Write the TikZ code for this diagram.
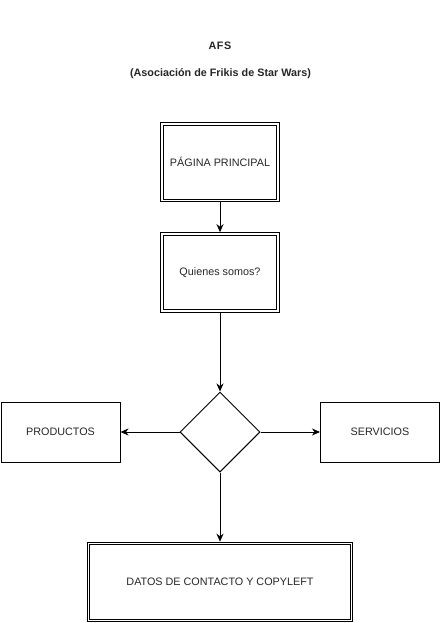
\documentclass[tikz,border=0pt]{standalone}
\usepackage{fontspec}
\setmainfont{Liberation Sans}
\usetikzlibrary{shapes.geometric,arrows.meta}
\begin{document}
\begin{tikzpicture}[x=1pt,y=-1pt,
  every node/.style={font=\fontsize{10.8}{13}\selectfont, text=black!85},
  dblbox/.style={draw, line width=1pt, double, double distance=1.6pt, outer sep=1.8pt, inner sep=0pt, align=center},
  sglbox/.style={draw, line width=1pt, inner sep=0pt, align=center},
  decision/.style={draw, line width=1pt, diamond, inner sep=0pt, minimum width=80pt, minimum height=80pt},
  titletext/.style={font=\fontsize{10.8}{13}\selectfont\bfseries},
  conn/.style={line width=1pt, -{Stealth[length=8pt,width=7pt,inset=2.5pt]}}]
\useasboundingbox (0,0) rectangle (441,623);
\node[titletext] (t1) at (220,46) {A\kern0.6pt F\kern0.6pt S};
\node[titletext] (t2) at (220.5,74) {(Asociación de Frikis de Star Wars)};
\node[dblbox, minimum width=116pt, minimum height=76.5pt] (b1) at (220,162.2) {PÁGINA PRINCIPAL};
\node[dblbox, minimum width=116pt, minimum height=77pt] (b2) at (220,272.5) {Quienes somos?};
\node[decision] (d) at (220,432) {};
\node[sglbox, minimum width=119pt, minimum height=60pt] (p) at (60.5,432) {PRODUCTOS};
\node[sglbox, minimum width=119pt, minimum height=60pt] (s) at (380,432) {SERVICIOS};
\node[dblbox, minimum width=263pt, minimum height=77pt] (f) at (220,582) {DATOS DE CONTACTO Y COPYLEFT};
\draw[conn] (b1) -- (b2);
\draw[conn] (b2) -- (d.north);
\draw[conn] (d.west) -- (p.east);
\draw[conn] (d.east) -- (s.west);
\draw[conn] (d.south) -- (f.north);
\end{tikzpicture}
\end{document}
